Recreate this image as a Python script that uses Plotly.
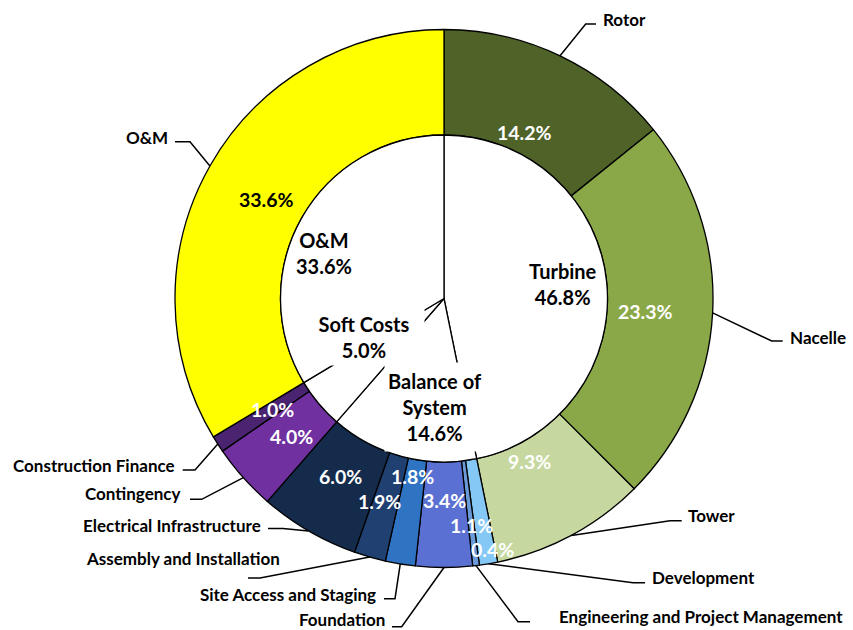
import numpy as np
import plotly.graph_objects as go

# outer ring: cost components, clockwise from 12 o'clock
components = ["Rotor", "Nacelle", "Tower", "Development",
              "Engineering and Project Management", "Foundation",
              "Site Access and Staging", "Assembly and Installation",
              "Electrical Infrastructure", "Contingency",
              "Construction Finance", "O&M"]
values = [14.2, 23.3, 9.3, 1.1, 0.4, 3.4, 1.8, 1.9, 6.0, 4.0, 1.0, 33.6]
colors = ["#4F6228", "#8AA847", "#C6D8A0", "#85C8F5", "#6A9BD8", "#5B70D3",
          "#2F74C2", "#1F4070", "#142B4C", "#7030A0", "#4A2470", "#FFFF00"]
pct_colors = ["white"] * 11 + ["black"]

# inner pie: groups
groups = ["Turbine", "Balance of<br>System", "Soft Costs", "O&M"]
group_values = [46.8, 14.6, 5.0, 33.6]

W, H = 853, 630
CX, CY = 444, 298.5
R_OUT, R_IN = 269, 163.5
FONT = "Lato"


def paper(x, y):
  return x / W, 1 - y / H


def mid_angles(vals):
  v = np.array(vals, dtype=float)
  return (np.cumsum(v) - v / 2) / v.sum() * 2 * np.pi


fig = go.Figure()

fig.add_trace(go.Pie(
  values=values, labels=components, sort=False, direction="clockwise",
  rotation=0, hole=R_IN / R_OUT, textinfo="none", hoverinfo="label+percent",
  marker=dict(colors=colors, line=dict(color="black", width=1.3)),
  domain=dict(x=[(CX - R_OUT) / W, (CX + R_OUT) / W],
              y=[1 - (CY + R_OUT) / H, 1 - (CY - R_OUT) / H]),
))
fig.add_trace(go.Pie(
  values=group_values, labels=groups, sort=False, direction="clockwise",
  rotation=0, textinfo="none", hoverinfo="label+percent",
  marker=dict(colors=["white"] * 4, line=dict(color="black", width=1.3)),
  domain=dict(x=[(CX - R_IN) / W, (CX + R_IN) / W],
              y=[1 - (CY + R_IN) / H, 1 - (CY - R_IN) / H]),
))

annotations = []
shapes = []

# percentage labels on the ring (mid-angle, nudged like the original)
pct_nudge = [(-6, 14), (2, 2), (-9, -13), (-6, 30), (25, 52), (0, 2),
             (1, -19), (-9, 11), (-3, 5), (-3, 5), (-3, 3), (-3, 0)]
for a, v, c, (dx, dy) in zip(mid_angles(values), values, pct_colors, pct_nudge):
  x = CX + 200 * np.sin(a) + dx
  y = CY - 200 * np.cos(a) + dy
  px_, py_ = paper(x, y)
  annotations.append(dict(x=px_, y=py_, xref="paper", yref="paper",
                          xanchor="center", yanchor="middle",
                          text="<b>{:.1f}%</b>".format(v), showarrow=False,
                          font=dict(family=FONT, size=19.5, color=c)))

# category labels with elbow leader lines: (knee, end, text pos, anchor)
leaders = [
  ((585.7, 24), (596, 24), (601, 19), "left"),
  ((771.7, 341), (782.7, 341), (787.7, 337), "left"),
  ((670, 520.7), (681.7, 520.7), (686, 515), "left"),
  ((633, 582.7), (645, 582.7), (650, 577), "left"),
  ((518, 621.7), (530, 621.7), (556.7, 616), "left"),
  ((401.7, 626.7), (392, 626.7), (386.7, 619.5), "right"),
  ((395, 598.7), (384, 598.7), (378, 594), "right"),
  ((260, 578), (248, 578), (282, 558), "right"),
  ((283, 528.5), (268, 528.5), (263, 525), "right"),
  ((201.7, 499.3), (190, 499.3), (183, 493), "right"),
  ((195, 470), (182.7, 470), (176.7, 465), "right"),
  ((190, 141.7), (175, 141.7), (170, 137), "right"),
]
for a, name, (knee, end, tpos, anchor) in zip(mid_angles(values), components, leaders):
  ax = CX + R_OUT * np.sin(a)
  ay = CY - R_OUT * np.cos(a)
  pts = [paper(ax, ay), paper(*knee), paper(*end)]
  path = "M {},{} L {},{} L {},{}".format(*[c for p in pts for c in p])
  shapes.append(dict(type="path", path=path, xref="paper", yref="paper",
                     line=dict(color="black", width=1.5)))
  tx, ty = paper(*tpos)
  annotations.append(dict(x=tx, y=ty, xref="paper", yref="paper",
                          text="<b>{}</b>".format(name), showarrow=False,
                          xanchor=anchor, yanchor="middle",
                          font=dict(family=FONT, size=17, color="black")))

# group labels inside the hole
grp_nudge = [(0, -2), (22, -8), (12, -39), (-16, 14)]
grp_box = [None, (100, 88), (120, 56), None]
for a, g, v, (dx, dy), box in zip(mid_angles(group_values), groups,
                                  group_values, grp_nudge, grp_box):
  x = CX + 120 * np.sin(a) + dx
  y = CY - 120 * np.cos(a) + dy
  px_, py_ = paper(x, y)
  ann = dict(x=px_, y=py_, xref="paper", yref="paper",
             xanchor="center", yanchor="middle",
             text="<b>{}<br>{:.1f}%</b>".format(g, v), showarrow=False,
             font=dict(family=FONT, size=20, color="black"))
  if box:
    ann.update(width=box[0], height=box[1], bgcolor="white", borderpad=0)
  annotations.append(ann)

fig.update_layout(
  width=W, height=H, margin=dict(l=0, r=0, t=0, b=0),
  paper_bgcolor="white", plot_bgcolor="white", showlegend=False,
  annotations=annotations, shapes=shapes,
)

fig.write_html("out.html", config={"displayModeBar": False},
               post_script="document.body.style.margin='0px';"
                           "document.body.style.overflow='hidden';")
